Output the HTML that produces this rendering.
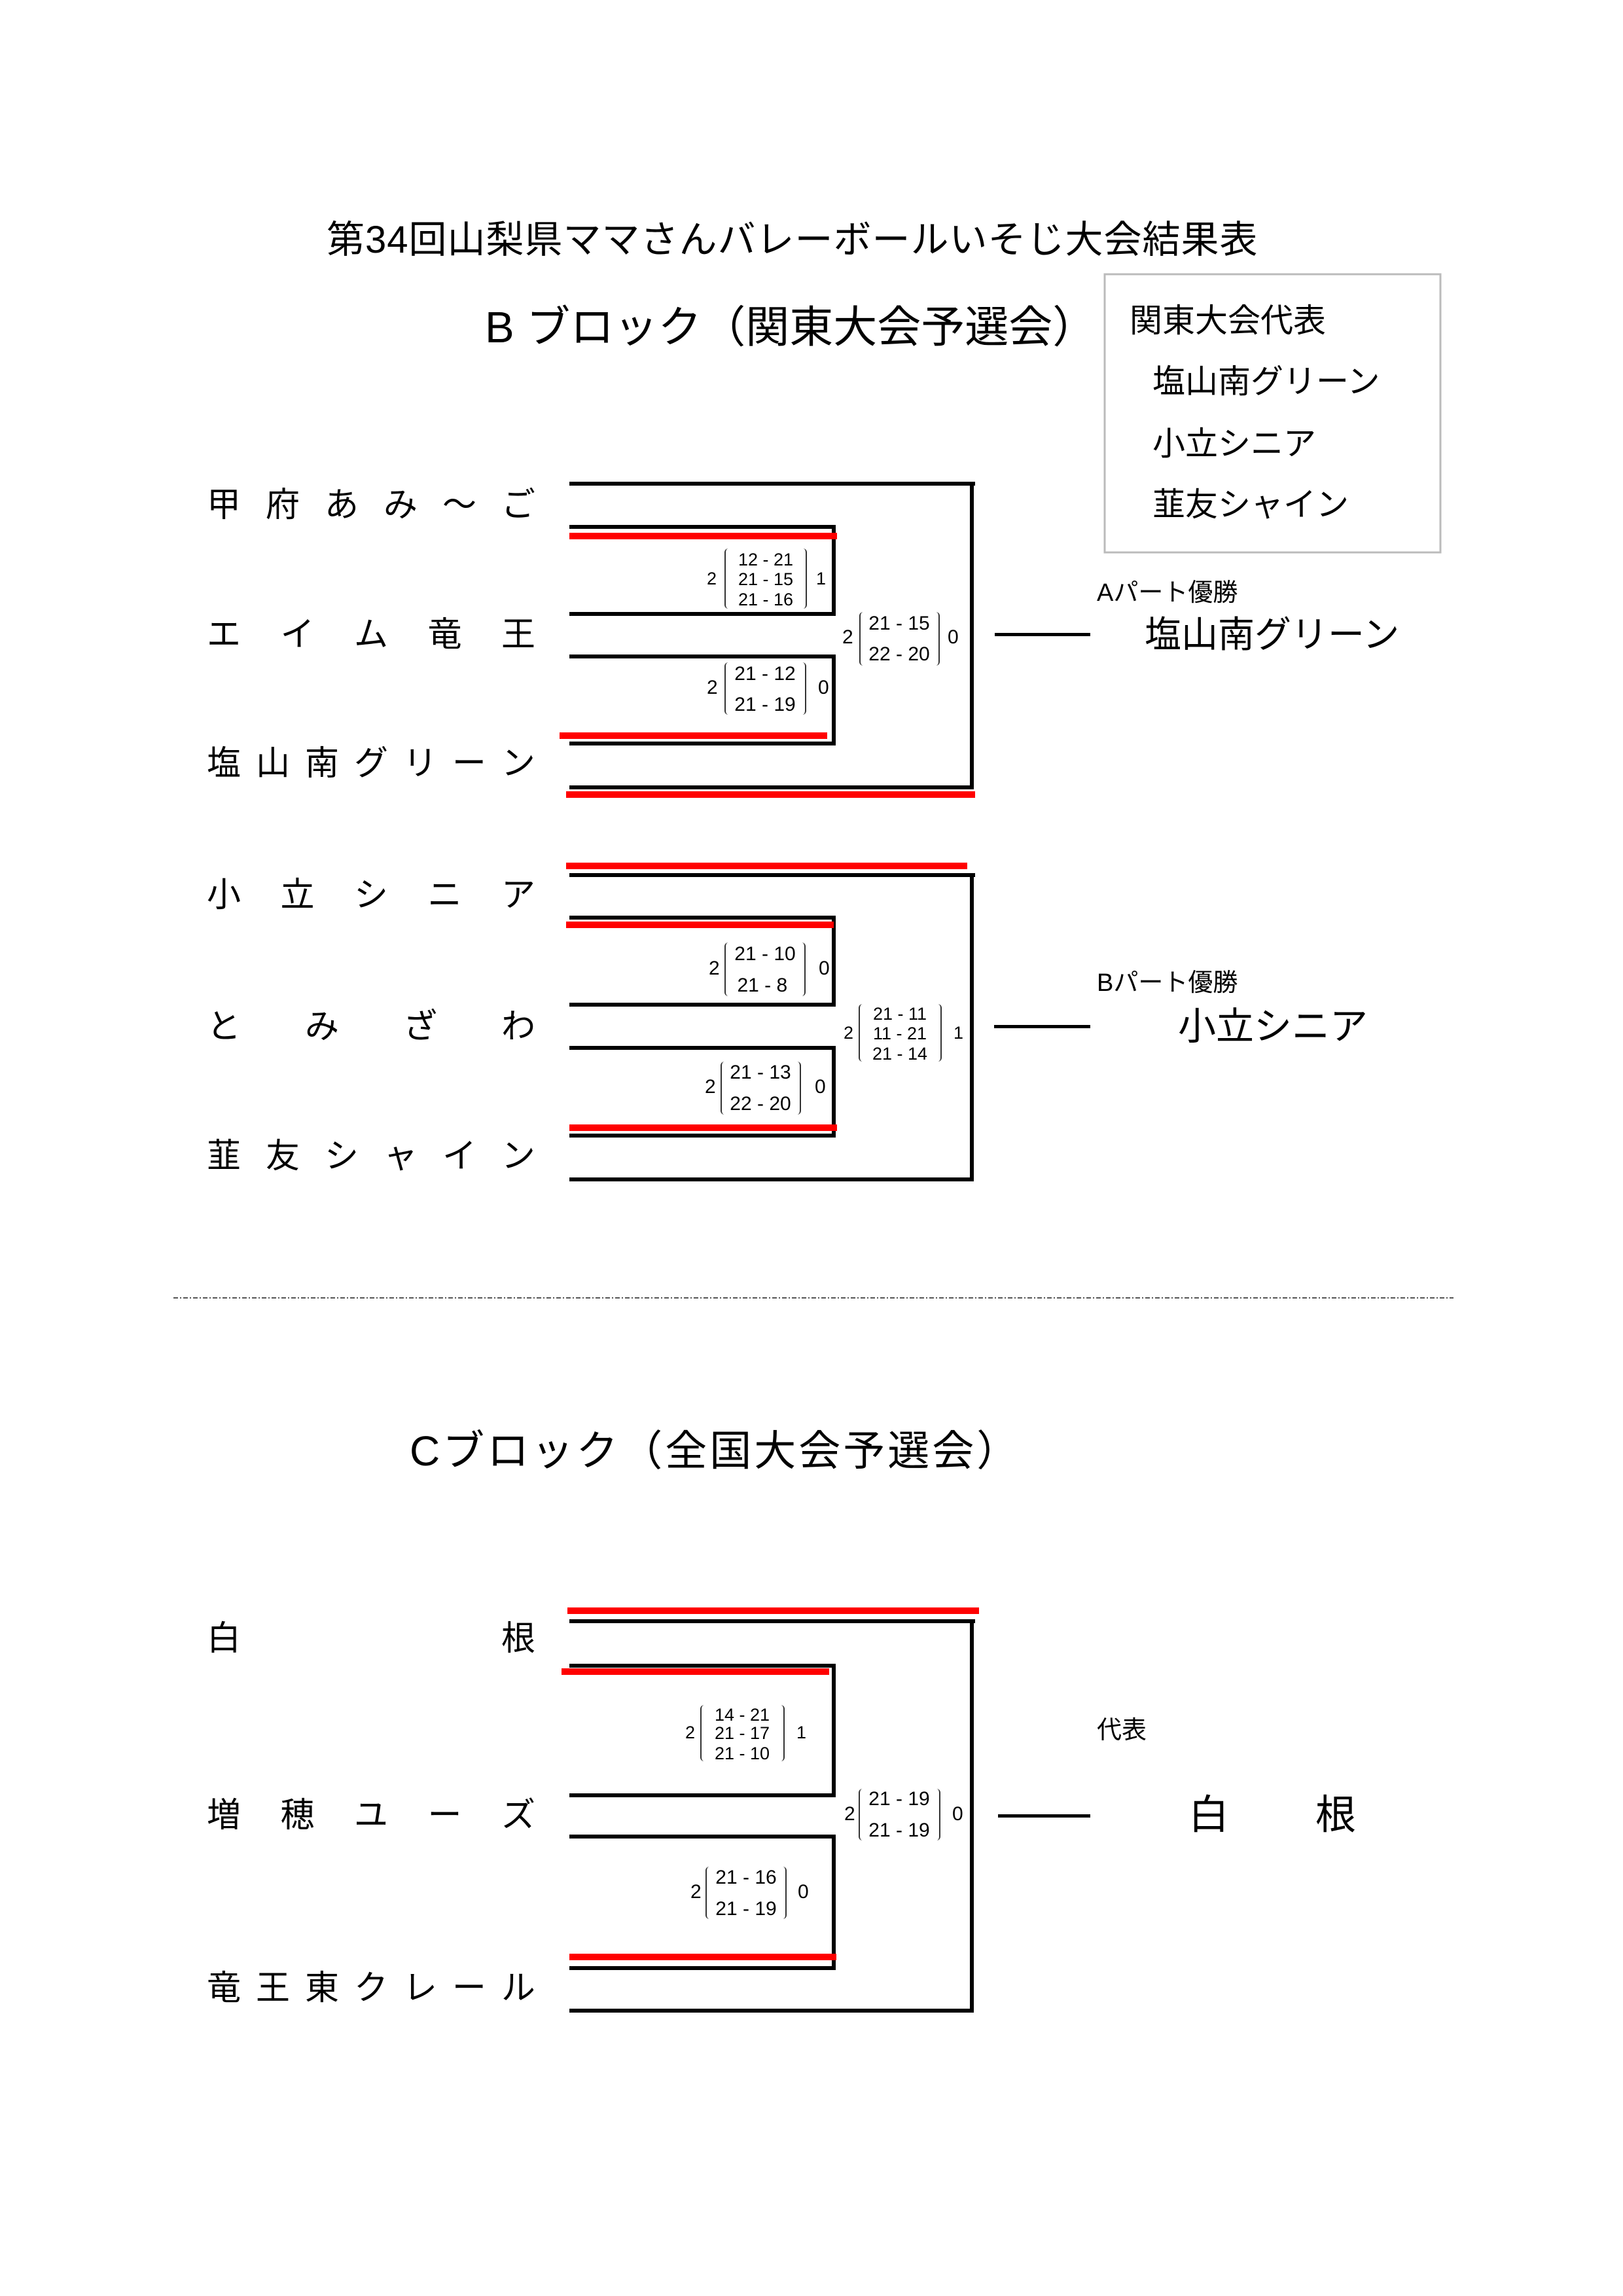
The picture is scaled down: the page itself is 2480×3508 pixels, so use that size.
<!DOCTYPE html>
<html><head><meta charset="utf-8"><style>
body{margin:0;background:#fff}
#p{position:relative;width:2480px;height:3508px;overflow:hidden;background:#fff;font-family:"Liberation Sans","Noto Sans CJK JP",sans-serif;color:#000}
.t{position:absolute;line-height:1;white-space:nowrap}
.n{position:absolute;left:316px;width:502px;display:flex;justify-content:space-between;font-size:52px;line-height:1}
.s{position:absolute;line-height:1;white-space:nowrap;font-family:"Liberation Sans",sans-serif}
.br{position:absolute;border-left:2px solid #333;border-right:2px solid #333;border-radius:6px}
.c{transform:translateX(-50%)}
</style></head><body><div id="p">
<svg width="2480" height="3508" style="position:absolute;left:0;top:0">
<g fill="#000">
<rect x="870" y="736" width="620" height="6"/><rect x="1482" y="736" width="6" height="470"/><rect x="870" y="1200" width="618" height="6"/>
<rect x="870" y="802" width="407" height="6"/><rect x="1271" y="802" width="6" height="139"/><rect x="870" y="935" width="407" height="6"/>
<rect x="870" y="1000" width="407" height="6"/><rect x="1271" y="1000" width="6" height="139"/><rect x="870" y="1133" width="407" height="6"/>
<rect x="1520" y="967" width="146" height="5"/>
<rect x="870" y="1334" width="620" height="6"/><rect x="1482" y="1334" width="6" height="471"/><rect x="870" y="1799" width="618" height="6"/>
<rect x="870" y="1399" width="407" height="6"/><rect x="1271" y="1399" width="6" height="139"/><rect x="870" y="1532" width="407" height="6"/>
<rect x="870" y="1598" width="407" height="6"/><rect x="1271" y="1598" width="6" height="140"/><rect x="870" y="1732" width="407" height="6"/>
<rect x="1519" y="1566" width="147" height="5"/>
<rect x="870" y="2474" width="620" height="6"/><rect x="1482" y="2474" width="6" height="601"/><rect x="870" y="3069" width="618" height="6"/>
<rect x="870" y="2542" width="407" height="6"/><rect x="1271" y="2542" width="6" height="204"/><rect x="870" y="2740" width="407" height="6"/>
<rect x="870" y="2803" width="407" height="6"/><rect x="1271" y="2803" width="6" height="207"/><rect x="870" y="3004" width="407" height="6"/>
<rect x="1525" y="2772" width="141" height="5"/>
</g>
<g fill="#ff0000">
<rect x="870" y="814" width="409" height="10"/><rect x="855" y="1119" width="409" height="10"/><rect x="865" y="1209" width="625" height="10"/>
<rect x="865" y="1318" width="613" height="10"/><rect x="865" y="1408" width="409" height="10"/><rect x="870" y="1718" width="409" height="10"/>
<rect x="867" y="2456" width="629" height="10"/><rect x="858" y="2549" width="409" height="10"/><rect x="870" y="2985" width="408" height="10"/>
</g>
<line x1="265" y1="1983" x2="2221" y2="1983" stroke="#555" stroke-width="2" stroke-dasharray="7 3 2 3"/>
<rect x="1688" y="419" width="513" height="425" fill="none" stroke="#bbb" stroke-width="3"/>
</svg>

<div class="t" style="left:499px;top:338px;font-size:58px;letter-spacing:1px">第34回山梨県ママさんバレーボールいそじ大会結果表</div>
<div class="t" style="left:741px;top:467px;font-size:67px">B ブロック（関東大会予選会）</div>
<div class="t" style="left:1726px;top:465px;font-size:50px">関東大会代表</div>
<div class="t" style="left:1761px;top:558px;font-size:50px">塩山南グリーン</div>
<div class="t" style="left:1761px;top:653px;font-size:50px">小立シニア</div>
<div class="t" style="left:1761px;top:746px;font-size:50px">韮友シャイン</div>

<div class="n" style="top:746px"><span>甲</span><span>府</span><span>あ</span><span>み</span><span>～</span><span>ご</span></div>
<div class="n" style="top:944px"><span>エ</span><span>イ</span><span>ム</span><span>竜</span><span>王</span></div>
<div class="n" style="top:1141px"><span>塩</span><span>山</span><span>南</span><span>グ</span><span>リ</span><span>ー</span><span>ン</span></div>
<div class="n" style="top:1342px"><span>小</span><span>立</span><span>シ</span><span>ニ</span><span>ア</span></div>
<div class="n" style="top:1543px"><span>と</span><span>み</span><span>ざ</span><span>わ</span></div>
<div class="n" style="top:1741px"><span>韮</span><span>友</span><span>シ</span><span>ャ</span><span>イ</span><span>ン</span></div>
<div class="n" style="top:2478px"><span>白</span><span>根</span></div>
<div class="n" style="top:2748px"><span>増</span><span>穂</span><span>ユ</span><span>ー</span><span>ズ</span></div>
<div class="n" style="top:3012px"><span>竜</span><span>王</span><span>東</span><span>ク</span><span>レ</span><span>ー</span><span>ル</span></div>

<div class="t" style="left:1676px;top:887px;font-size:38px">Aパート優勝</div>
<div class="t" style="left:1749px;top:942px;font-size:56px">塩山南グリーン</div>
<div class="t" style="left:1676px;top:1483px;font-size:38px">Bパート優勝</div>
<div class="t" style="left:1800px;top:1540px;font-size:58px">小立シニア</div>
<div class="t" style="left:626px;top:2185px;font-size:64px;letter-spacing:4px">Cブロック（全国大会予選会）</div>
<div class="t" style="left:1676px;top:2625px;font-size:38px">代表</div>
<div class="t" style="left:1816px;top:2743px;font-size:62px">白</div>
<div class="t" style="left:2010px;top:2743px;font-size:62px">根</div>

<div class="s" style="left:1080px;top:871px;font-size:27px">2</div>
<div class="br" style="left:1107px;top:838px;width:122px;height:92px"></div>
<div class="s c" style="left:1170px;top:842px;font-size:27px">12 - 21</div>
<div class="s c" style="left:1170px;top:872px;font-size:27px">21 - 15</div>
<div class="s c" style="left:1170px;top:903px;font-size:27px">21 - 16</div>
<div class="s" style="left:1247px;top:871px;font-size:27px">1</div>
<div class="s" style="left:1080px;top:1036px;font-size:30px">2</div>
<div class="br" style="left:1107px;top:1012px;width:121px;height:80px"></div>
<div class="s c" style="left:1169px;top:1015px;font-size:30px">21 - 12</div>
<div class="s c" style="left:1169px;top:1062px;font-size:30px">21 - 19</div>
<div class="s" style="left:1250px;top:1036px;font-size:30px">0</div>
<div class="s" style="left:1287px;top:959px;font-size:30px">2</div>
<div class="br" style="left:1313px;top:935px;width:119px;height:82px"></div>
<div class="s c" style="left:1374px;top:938px;font-size:30px">21 - 15</div>
<div class="s c" style="left:1374px;top:985px;font-size:30px">22 - 20</div>
<div class="s" style="left:1448px;top:959px;font-size:30px">0</div>
<div class="s" style="left:1083px;top:1465px;font-size:30px">2</div>
<div class="br" style="left:1107px;top:1440px;width:120px;height:82px"></div>
<div class="s c" style="left:1169px;top:1443px;font-size:30px">21 - 10</div>
<div class="s c" style="left:1169px;top:1491px;font-size:30px">21 - 8&nbsp;</div>
<div class="s" style="left:1251px;top:1465px;font-size:30px">0</div>
<div class="s" style="left:1077px;top:1646px;font-size:30px">2</div>
<div class="br" style="left:1101px;top:1622px;width:119px;height:81px"></div>
<div class="s c" style="left:1162px;top:1624px;font-size:30px">21 - 13</div>
<div class="s c" style="left:1162px;top:1672px;font-size:30px">22 - 20</div>
<div class="s" style="left:1245px;top:1646px;font-size:30px">0</div>
<div class="s" style="left:1289px;top:1565px;font-size:27px">2</div>
<div class="br" style="left:1312px;top:1534px;width:123px;height:88px"></div>
<div class="s c" style="left:1375px;top:1536px;font-size:27px">21 - 11</div>
<div class="s c" style="left:1375px;top:1566px;font-size:27px">11 - 21</div>
<div class="s c" style="left:1375px;top:1597px;font-size:27px">21 - 14</div>
<div class="s" style="left:1457px;top:1565px;font-size:27px">1</div>
<div class="s" style="left:1047px;top:2634px;font-size:27px">2</div>
<div class="br" style="left:1070px;top:2605px;width:125px;height:86px"></div>
<div class="s c" style="left:1134px;top:2607px;font-size:27px">14 - 21</div>
<div class="s c" style="left:1134px;top:2635px;font-size:27px">21 - 17</div>
<div class="s c" style="left:1134px;top:2666px;font-size:27px">21 - 10</div>
<div class="s" style="left:1217px;top:2634px;font-size:27px">1</div>
<div class="s" style="left:1055px;top:2876px;font-size:30px">2</div>
<div class="br" style="left:1078px;top:2852px;width:120px;height:80px"></div>
<div class="s c" style="left:1140px;top:2854px;font-size:30px">21 - 16</div>
<div class="s c" style="left:1140px;top:2902px;font-size:30px">21 - 19</div>
<div class="s" style="left:1219px;top:2876px;font-size:30px">0</div>
<div class="s" style="left:1290px;top:2757px;font-size:30px">2</div>
<div class="br" style="left:1312px;top:2733px;width:121px;height:79px"></div>
<div class="s c" style="left:1374px;top:2734px;font-size:30px">21 - 19</div>
<div class="s c" style="left:1374px;top:2782px;font-size:30px">21 - 19</div>
<div class="s" style="left:1455px;top:2757px;font-size:30px">0</div>
</div></body></html>
